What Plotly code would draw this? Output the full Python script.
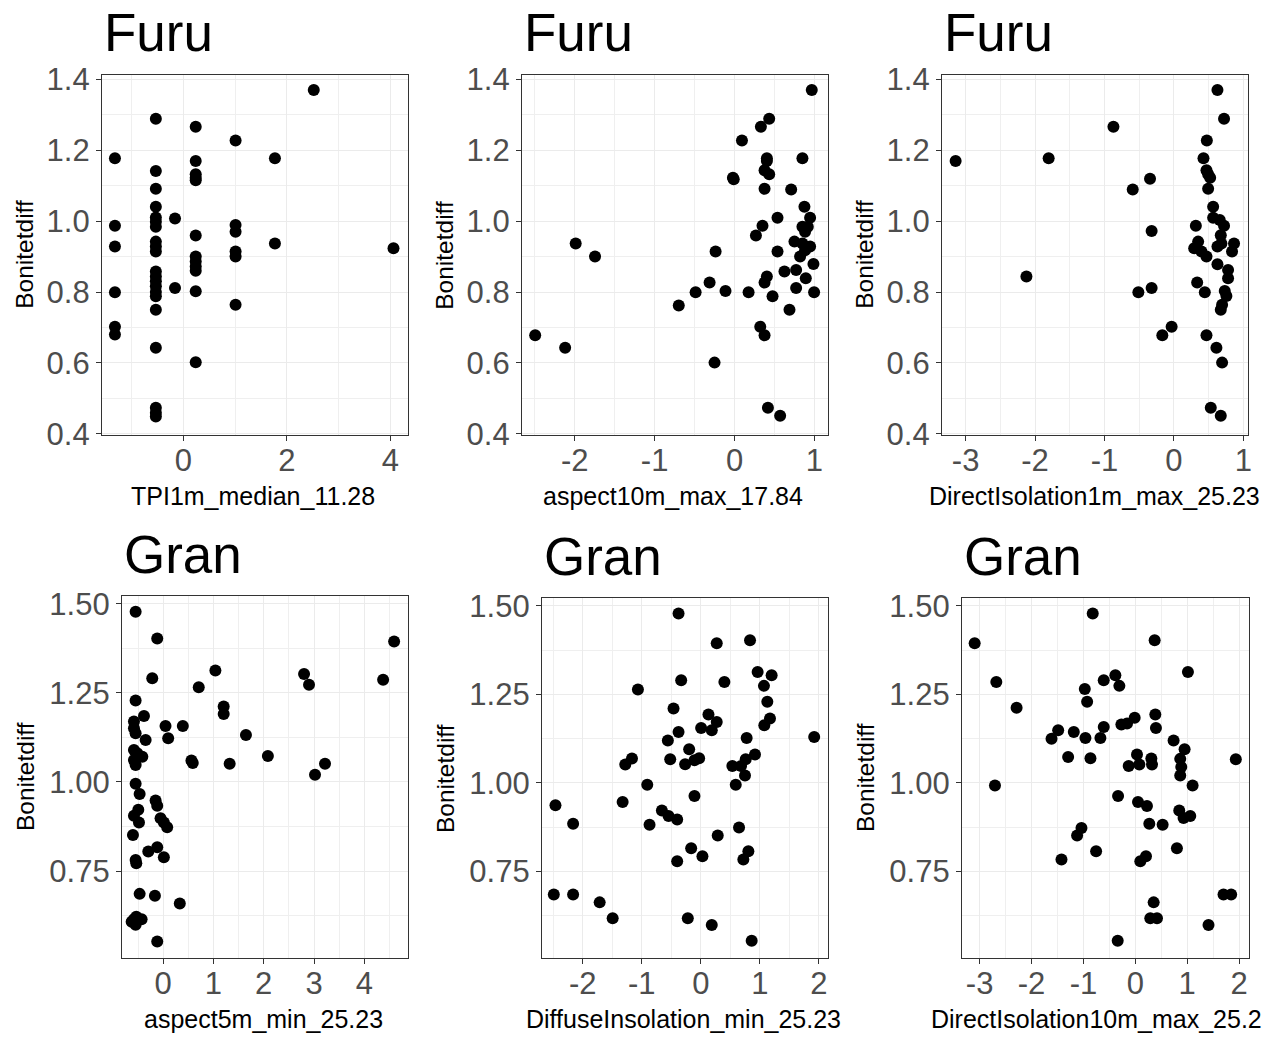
import plotly.graph_objects as go

# ---------------- data ----------------
titles = ["Furu", "Furu", "Furu", "Gran", "Gran", "Gran"]
xlabels = ["TPI1m_median_11.28", "aspect10m_max_17.84", "DirectIsolation1m_max_25.23",
           "aspect5m_min_25.23", "DiffuseInsolation_min_25.23", "DirectIsolation10m_max_25.2"]
ylabel = "Bonitetdiff"

x1 = [-1.32]*6 + [-0.53]*21 + [-0.16]*2 + [0.24]*12 + [1.01]*6 + [1.77]*2 + [2.52, 4.06]
y1 = [1.177, 0.987, 0.928, 0.799, 0.702, 0.680,
      1.288, 1.141, 1.091, 1.040, 1.010, 0.998, 0.984, 0.942, 0.928, 0.914, 0.858, 0.844,
      0.830, 0.816, 0.800, 0.788, 0.750, 0.643, 0.474, 0.460, 0.449,
      1.007, 0.811,
      1.266, 1.169, 1.132, 1.122, 1.115, 0.959, 0.900, 0.886, 0.872, 0.860, 0.802, 0.602,
      1.227, 0.989, 0.970, 0.914, 0.900, 0.764,
      1.177, 0.937,
      1.369, 0.923]

x2 = [0.967, 0.434, 0.330, 0.093, 0.405, 0.405, 0.850, -0.020, -0.010, 0.376, 0.434, 0.376,
      0.709, 0.875, 0.946, 0.538, 0.350, 0.268, 0.850, 0.917, 0.883, 0.750, 0.850, 0.946,
      0.821, 0.883, 0.538, -0.237, 0.988, 0.625, 0.771, 0.405, 0.376, 0.892, 0.771, -0.312,
      -0.487, -0.113, 0.176, 0.476, 0.996, -0.698, 0.688, 0.322, 0.376, -1.988, -1.746,
      -2.495, -2.120, -0.250, 0.418, 0.571]
y2 = [1.369, 1.288, 1.266, 1.227, 1.177, 1.169, 1.177, 1.122, 1.118, 1.143, 1.132, 1.091,
      1.089, 1.040, 1.009, 1.009, 0.987, 0.959, 0.984, 0.984, 0.970, 0.942, 0.937, 0.928,
      0.900, 0.918, 0.914, 0.914, 0.879, 0.858, 0.862, 0.844, 0.827, 0.839, 0.811, 0.827,
      0.799, 0.803, 0.799, 0.788, 0.799, 0.762, 0.750, 0.702, 0.678, 0.937, 0.900,
      0.678, 0.643, 0.601, 0.474, 0.451]

x3 = [0.627, 0.722, -0.871, 0.474, -3.144, -1.804, 0.426, -0.344, 0.469, 0.493, 0.522,
      -0.593, 0.493, 0.565, 0.565, 0.660, 0.316, 0.722, -0.321, 0.675, 0.684, 0.627,
      0.349, 0.292, 0.397, 0.469, 0.866, 0.837, 0.627, 0.780, 0.780, -2.124, 0.335, 0.445,
      -0.321, -0.512, 0.732, 0.756, 0.694, 0.675, -0.033, -0.167, 0.469, 0.612, 0.694,
      0.531, 0.675]
y3 = [1.369, 1.288, 1.266, 1.227, 1.169, 1.177, 1.177, 1.119, 1.143, 1.132, 1.122,
      1.089, 1.091, 1.040, 1.009, 1.003, 0.987, 0.987, 0.972, 0.960, 0.937, 0.928,
      0.942, 0.923, 0.914, 0.900, 0.937, 0.914, 0.878, 0.862, 0.839, 0.844, 0.827, 0.799,
      0.811, 0.799, 0.803, 0.789, 0.764, 0.750, 0.702, 0.678, 0.678, 0.643, 0.601,
      0.474, 0.451]

x4 = [-0.549, -0.119, 4.594, -0.218, 1.038, 0.707, 2.802, 2.901, 4.375, -0.549, 1.203, 1.203,
      -0.383, -0.582, -0.582, -0.549, 0.046, 0.390, -0.350, 0.099, 1.646,
      -0.582, -0.516, -0.416, -0.582, -0.549, 0.562, 0.588, 1.322, 2.082, 3.219, 3.020,
      -0.549, -0.469, -0.152, -0.119, -0.496, -0.582, -0.482, -0.602, -0.053, 0.013, 0.079,
      -0.297, -0.119, 0.013, -0.549, -0.536, -0.469, -0.165, 0.330,
      -0.582, -0.430, -0.549, -0.628, -0.536, -0.119]
y4 = [1.478, 1.403, 1.394, 1.291, 1.313, 1.266, 1.303, 1.273, 1.287, 1.229, 1.212, 1.191,
      1.185, 1.170, 1.151, 1.137, 1.157, 1.157, 1.118, 1.123, 1.132,
      1.090, 1.081, 1.071, 1.062, 1.048, 1.060, 1.053, 1.051, 1.073, 1.051, 1.020,
      0.995, 0.966, 0.948, 0.933, 0.922, 0.905, 0.886, 0.851, 0.898, 0.886, 0.873,
      0.805, 0.817, 0.789, 0.781, 0.772, 0.686, 0.681, 0.659,
      0.615, 0.615, 0.599, 0.608, 0.622, 0.552]

x5 = [-0.377, 0.270, 0.834, -0.332, 0.400, 0.963, 1.200, 1.070, -1.065, 1.127, -0.462, 0.130,
      0.270, 0.186, 0.006, 1.172, 1.076, -0.377, -0.558, 0.777, 1.921, -0.197, -0.107,
      -0.028, -0.265, -0.518, -1.166, -1.279, 0.918, 0.761, 0.535, 0.682, 0.749, 0.592,
      -0.907, -0.107, -1.324, -0.659, -0.546, -0.400, -0.868, 0.648, 0.287, -0.163, 0.028,
      -0.400, 0.806, 0.721, -2.462, -2.163, -2.490, -2.163, -1.713, -1.493, -0.220, 0.186,
      0.862]
y5 = [1.478, 1.394, 1.403, 1.290, 1.285, 1.313, 1.304, 1.274, 1.264, 1.229, 1.210, 1.193,
      1.172, 1.149, 1.155, 1.182, 1.163, 1.144, 1.120, 1.127, 1.130, 1.095, 1.064,
      1.070, 1.053, 1.067, 1.069, 1.052, 1.080, 1.067, 1.048, 1.048, 1.021, 0.995,
      0.995, 0.963, 0.946, 0.922, 0.907, 0.897, 0.882, 0.874, 0.852, 0.816, 0.793,
      0.779, 0.807, 0.784, 0.937, 0.885, 0.685, 0.685, 0.663, 0.618, 0.618, 0.599,
      0.555]

x6 = [-0.821, -3.096, 0.372, -2.679, 1.013, -0.609, -0.385, -0.308, -0.974, -0.929, -2.288,
      0.385, 0.397, -0.269, -0.160, -0.013, -1.487, -1.615, -1.186, -0.962, -0.609, -0.673,
      0.737, 0.949, 0.865, 0.885, 0.865, -1.295, -0.865, 0.032, -0.128, 0.077, 0.308, 0.321,
      1.936, 1.103, -2.705, -0.333, 0.051, 0.224, 0.846, 0.929, 1.058, 0.269, 0.526,
      -1.038, -1.122, -0.756, 0.801, -1.423, 0.205, 0.096, 1.699, 1.846, 0.353, 0.288,
      0.417, 1.410, -0.340]
y6 = [1.478, 1.394, 1.403, 1.285, 1.313, 1.290, 1.304, 1.274, 1.265, 1.229, 1.212,
      1.193, 1.155, 1.165, 1.168, 1.184, 1.149, 1.125, 1.144, 1.127, 1.158, 1.127,
      1.120, 1.095, 1.068, 1.045, 1.021, 1.073, 1.070, 1.080, 1.048, 1.052, 1.069, 1.052,
      1.067, 0.993, 0.993, 0.963, 0.946, 0.935, 0.922, 0.901, 0.907, 0.885, 0.882,
      0.873, 0.852, 0.807, 0.816, 0.784, 0.793, 0.779, 0.685, 0.685, 0.663, 0.618,
      0.618, 0.599, 0.555]

xs = [x1, x2, x3, x4, x5, x6]
ys = [y1, y2, y3, y4, y5, y6]

xtickvals = [[0, 2, 4], [-2, -1, 0, 1], [-3, -2, -1, 0, 1],
             [0, 1, 2, 3, 4], [-2, -1, 0, 1, 2], [-3, -2, -1, 0, 1, 2]]
ytick_top = [0.4, 0.6, 0.8, 1.0, 1.2, 1.4]
ytick_bot = [0.75, 1.00, 1.25, 1.50]

# ---------------- layout geometry (pixels) ----------------
W, H = 1278, 1037
xranges = [[-1.57, 4.34], [-2.66, 1.17], [-3.34, 1.067],
           [-0.82, 4.87], [-2.69, 2.155], [-3.34, 2.19]]
yranges = [[0.397, 1.413]] * 3 + [[0.506, 1.522]] * 3
px_x = [(102, 408), (522, 828), (942, 1248), (122, 408), (542, 828), (962, 1249)]
px_y = [(74.5, 435)] * 3 + [(596, 958), (598, 958), (598, 958)]
ytitle_x = [25, 445, 865, 25, 445, 865]
xtitle_dx = [-2, -2, -1, -2, -2, -9]
xminor = [1, 0.5, 0.5, 0.5, 0.5, 0.5]

FONT = "Liberation Sans, Arial, sans-serif"
fig = go.Figure()
layout = dict(width=W, height=H, margin=dict(l=0, r=0, t=0, b=0, pad=0, autoexpand=False),
              paper_bgcolor="white", plot_bgcolor="white", showlegend=False,
              font=dict(family=FONT))
annotations = []

for i in range(6):
    k = "" if i == 0 else str(i + 1)
    fig.add_trace(go.Scatter(x=xs[i], y=ys[i], mode="markers",
                             marker=dict(color="black", size=12, line=dict(width=0)),
                             xaxis="x" + k, yaxis="y" + k, hoverinfo="skip"))
    x0, x1p = px_x[i]
    y0, y1p = px_y[i]
    xd = [x0 / W, x1p / W]
    yd = [1 - y1p / H, 1 - y0 / H]
    top = i < 3
    yt = ytick_top if top else ytick_bot
    yfmt = "{:.1f}" if top else "{:.2f}"
    common = dict(showline=True, linecolor="#333333", linewidth=1.3, mirror=True,
                  showgrid=True, gridcolor="#EBEBEB", gridwidth=1.2, zeroline=False,
                  ticks="outside", ticklen=5, tickwidth=1.3, tickcolor="#333333",
                  automargin=False,
                  tickfont=dict(family=FONT, size=31, color="#4D4D4D"))
    layout["xaxis" + k] = dict(common, domain=xd, range=xranges[i], anchor="y" + k,
                               tickmode="array", tickvals=xtickvals[i],
                               ticktext=[str(v) for v in xtickvals[i]],
                               ticklabelstandoff=-7,
                               minor=dict(showgrid=True, gridcolor="#EFEFEF", gridwidth=1,
                                          dtick=xminor[i], tick0=0))
    layout["yaxis" + k] = dict(common, domain=yd, range=yranges[i], anchor="x" + k,
                               tickmode="array", tickvals=yt,
                               ticktext=[yfmt.format(v) for v in yt],
                               minor=dict(showgrid=True, gridcolor="#EFEFEF", gridwidth=1,
                                          dtick=0.1 if top else 0.125, tick0=0))
    # panel title
    annotations.append(dict(text=titles[i], x=x0 / W, y=1 - ((y0 - 42) / H),
                            xref="paper", yref="paper", xanchor="left", yanchor="middle",
                            showarrow=False, font=dict(family=FONT, size=53, color="black")))
    # x axis title
    annotations.append(dict(text=xlabels[i], x=((x0 + x1p) / 2 + xtitle_dx[i]) / W,
                            y=1 - ((y1p + 61) / H), xref="paper", yref="paper",
                            xanchor="center", yanchor="middle", showarrow=False,
                            font=dict(family=FONT, size=25, color="black")))
    # y axis title
    annotations.append(dict(text=ylabel, x=ytitle_x[i] / W, y=1 - ((y0 + y1p) / 2 / H),
                            xref="paper", yref="paper", xanchor="center", yanchor="middle",
                            textangle=-90, showarrow=False,
                            font=dict(family=FONT, size=24.5, color="black")))

layout["annotations"] = annotations
fig.update_layout(**layout)
fig.write_html("out.html")
